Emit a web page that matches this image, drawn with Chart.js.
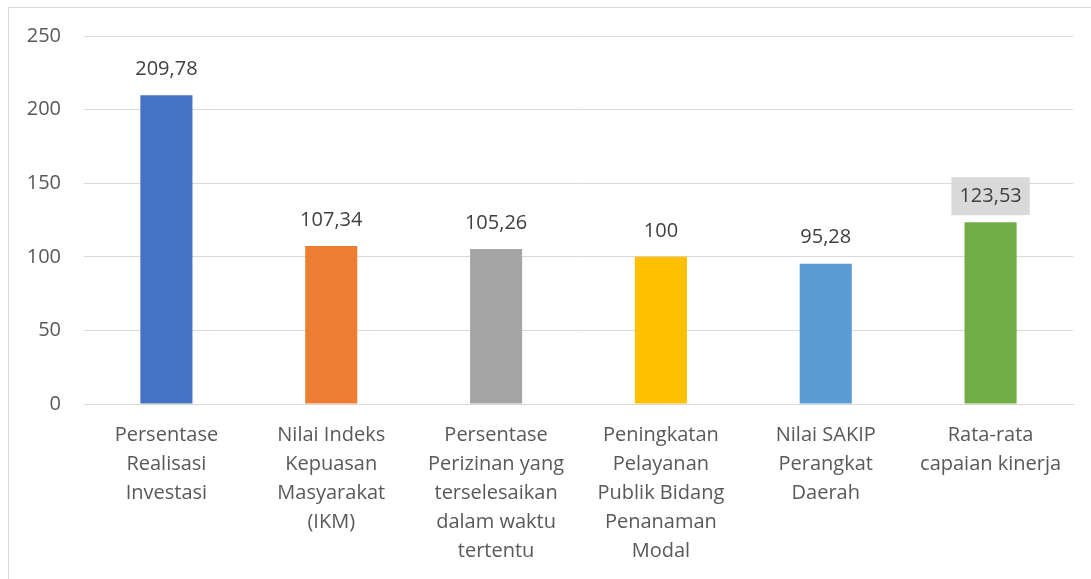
<!DOCTYPE html>
<html>
<head>
<meta charset="utf-8">
<script src="https://cdn.jsdelivr.net/npm/chart.js@4"></script>
<style>
  html, body { margin: 0; padding: 0; background: #fff; overflow: hidden; }
  #frame { position: absolute; left: 8px; top: 7px; width: 1200px; height: 700px; border: 1px solid #d9d9d9; }
  #wrap { position: absolute; left: 0; top: 0; width: 1091px; height: 579px; }
</style>
</head>
<body>
<div id="frame"></div>
<div id="wrap"><canvas id="chart"></canvas></div>
<script>
// categories (wrapped the way the original shows them)
const categories = [
  ['Persentase', 'Realisasi', 'Investasi'],
  ['Nilai Indeks', 'Kepuasan', 'Masyarakat', '(IKM)'],
  ['Persentase', 'Perizinan yang', 'terselesaikan', 'dalam waktu', 'tertentu'],
  ['Peningkatan', 'Pelayanan', 'Publik Bidang', 'Penanaman', 'Modal'],
  ['Nilai SAKIP', 'Perangkat', 'Daerah'],
  ['Rata-rata', 'capaian kinerja']
];
const values = [209.78, 107.34, 105.26, 100, 95.28, 123.53];
const yTicks = [0, 50, 100, 150, 200, 250];

const barColors = ['#4472C4', '#ED7D31', '#A5A5A5', '#FFC000', '#5B9BD5', '#70AD47'];
const FONT = "'Open Sans', sans-serif";
const TEXT = '#595959';

const fmt = v => String(v).replace('.', ',');

// value labels above bars, last one sits in a grey box
const valueLabels = {
  id: 'valueLabels',
  afterDatasetsDraw(chart) {
    const ctx = chart.ctx;
    const meta = chart.getDatasetMeta(0);
    ctx.save();
    ctx.font = '20px ' + FONT;
    ctx.textAlign = 'center';
    ctx.textBaseline = 'middle';
    meta.data.forEach((bar, i) => {
      const txt = fmt(values[i]);
      const y = bar.y - 26;
      if (i === values.length - 1) {
        const w = ctx.measureText(txt).width + 16;
        ctx.fillStyle = '#D9D9D9';
        ctx.fillRect(bar.x - w / 2, y - 19, w, 38);
      }
      ctx.fillStyle = '#404040';
      ctx.fillText(txt, bar.x, y);
    });
    ctx.restore();
  }
};

new Chart(document.getElementById('chart'), {
  type: 'bar',
  data: {
    labels: categories,
    datasets: [{
      data: values,
      backgroundColor: barColors,
      barPercentage: 1,
      categoryPercentage: 0.316
    }]
  },
  options: {
    responsive: true,
    maintainAspectRatio: false,
    animation: false,
    layout: { padding: { top: 36, right: 18, left: 0, bottom: 0 } },
    plugins: {
      legend: { display: false },
      tooltip: { enabled: false }
    },
    scales: {
      x: {
        grid: { display: false, drawTicks: false },
        border: { color: '#D9D9D9', width: 1 },
        ticks: {
          color: TEXT,
          font: { family: FONT, size: 20, lineHeight: 1.45 },
          padding: 17,
          maxRotation: 0,
          autoSkip: false
        },
        afterFit(scale) { scale.height = 175; }
      },
      y: {
        min: 0,
        max: 250,
        afterBuildTicks(scale) { scale.ticks = yTicks.map(v => ({ value: v })); },
        grid: { color: '#D9D9D9', drawTicks: false },
        border: { display: false },
        ticks: {
          color: TEXT,
          font: { family: FONT, size: 20 },
          padding: 23
        },
        afterFit(scale) { scale.width = 84; }
      }
    }
  },
  plugins: [valueLabels]
});
</script>
</body>
</html>
